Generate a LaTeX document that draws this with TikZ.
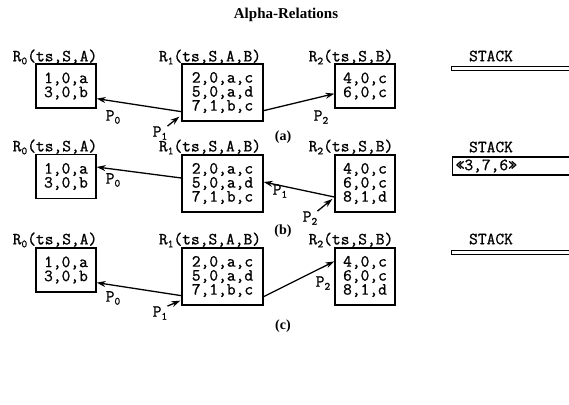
\documentclass[tikz,border=0pt]{standalone}
\usepackage{fontspec}
\setmainfont{Liberation Serif}
\newfontfamily\monof{Latin Modern Mono}[FakeBold=1]
\usetikzlibrary{arrows.meta}
\newcommand{\rsub}[1]{\raisebox{-3pt}{\fontsize{11}{11}\selectfont #1}}
\tikzset{
  relbox/.style={draw, line width=1.3pt, minimum width=60pt, minimum height=44pt, inner sep=0pt,
    font=\monof\fontsize{17}{14}\selectfont, align=center},
  bigbox/.style={relbox, minimum width=81pt, minimum height=57pt},
  lbl/.style={font=\monof\fontsize{17}{15}\selectfont, inner sep=0pt},
  arr/.style={line width=1.3pt, -{Stealth[length=9pt,width=6pt]}},
  subcap/.style={font=\bfseries\fontsize{14}{14}\selectfont, inner sep=0pt},
  stackbar/.style={draw, line width=1pt, minimum width=130pt, minimum height=4pt, inner sep=0pt, anchor=west},
}
\begin{document}
\begin{tikzpicture}[x=1pt,y=-1pt]
\clip (0,0) rectangle (569,404);
\node[font=\bfseries\fontsize{15}{15}\selectfont] (title) at (286,15) {Alpha-Relations};

% ---------- panel (a)
\node[lbl] (L0a) at (55,57) {R\rsub{0}(ts,S,A)};
\node[lbl] (L1a) at (210,57) {R\rsub{1}(ts,S,A,B)};
\node[lbl] (L2a) at (351,57) {R\rsub{2}(ts,S,B)};
\node[lbl] (Sa) at (491,56) {STACK};
\node[relbox] (R0a) at (66,86) {1,0,a\\3,0,b};
\node[bigbox] (R1a) at (222.5,92.5) {2,0,a,c\\5,0,a,d\\7,1,b,c};
\node[relbox] (R2a) at (365,86) {4,0,c\\6,0,c};
\node[stackbar] (SBa) at (451,68) {};
\node[lbl] (P0a) at (113,117) {P\rsub{0}};
\node[lbl] (P1a) at (160,133) {P\rsub{1}};
\node[lbl] (P2a) at (321,117) {P\rsub{2}};
\draw[arr] ([yshift=10pt]R1a.south west) -- ([yshift=10pt]R0a.south east);
\draw[arr] ([yshift=11pt]R1a.south east) -- ([yshift=15pt]R2a.south west);
\draw[arr] (P1a.north east) -- ([xshift=-2pt,yshift=5pt]R1a.south west);
\node[subcap] (ca) at (283,137) {(a)};

% ---------- panel (b)
\node[lbl] (L0b) at (55,147) {R\rsub{0}(ts,S,A)};
\node[lbl] (L1b) at (210,147) {R\rsub{1}(ts,S,A,B)};
\node[lbl] (L2b) at (351,147) {R\rsub{2}(ts,S,B)};
\node[lbl] (Sb) at (491,147) {STACK};
\node[relbox] (R0b) at (66,176.5) {1,0,a\\3,0,b};
\node[bigbox] (R1b) at (222.5,183.5) {2,0,a,c\\5,0,a,d\\7,1,b,c};
\node[relbox, minimum height=57pt] (R2b) at (365,183.5) {4,0,c\\6,0,c\\8,1,d};
\node[draw, line width=1.3pt, anchor=west, minimum height=18pt, text width=124pt, align=left,
      inner xsep=3pt, inner ysep=0pt, font=\monof\fontsize{17}{15}\selectfont] (SBb) at (452,166) {«3,7,6»};
\node[lbl] (P0b) at (113,180) {P\rsub{0}};
\node[lbl] (P1b) at (280,191) {P\rsub{1}};
\node[lbl] (P2b) at (310,218) {P\rsub{2}};
\draw[arr] ([yshift=5.5pt]R1b.west) -- ([yshift=9.5pt]R0b.east);
\draw[arr] ([yshift=-13.5pt]R2b.west) -- ([yshift=1.5pt]R1b.east);
\draw[arr] (P2b.north east) -- ([xshift=-2pt,yshift=-15.5pt]R2b.west);
\node[subcap] (cb) at (283,231) {(b)};

% ---------- panel (c)
\node[lbl] (L0c) at (55,240) {R\rsub{0}(ts,S,A)};
\node[lbl] (L1c) at (210,240) {R\rsub{1}(ts,S,A,B)};
\node[lbl] (L2c) at (351,240) {R\rsub{2}(ts,S,B)};
\node[lbl] (Sc) at (491,239) {STACK};
\node[relbox] (R0c) at (66,270) {1,0,a\\3,0,b};
\node[bigbox] (R1c) at (222.5,276.5) {2,0,a,c\\5,0,a,d\\7,1,b,c};
\node[relbox, minimum height=57pt] (R2c) at (365,276.5) {4,0,c\\6,0,c\\8,1,d};
\node[stackbar] (SBc) at (451,252) {};
\node[lbl] (P0c) at (113,298) {P\rsub{0}};
\node[lbl] (P1c) at (160,313) {P\rsub{1}};
\node[lbl] (P2c) at (323,283) {P\rsub{2}};
\draw[arr] ([yshift=10pt]R1c.south west) -- ([yshift=10pt]R0c.south east);
\draw[arr] ([yshift=9pt]R1c.south east) -- ([yshift=-14pt]R2c.north west);
\draw[arr] (P1c.north east) -- ([xshift=-1pt,yshift=5pt]R1c.south west);
\node[subcap] (cc) at (283,326) {(c)};
\end{tikzpicture}
\end{document}
